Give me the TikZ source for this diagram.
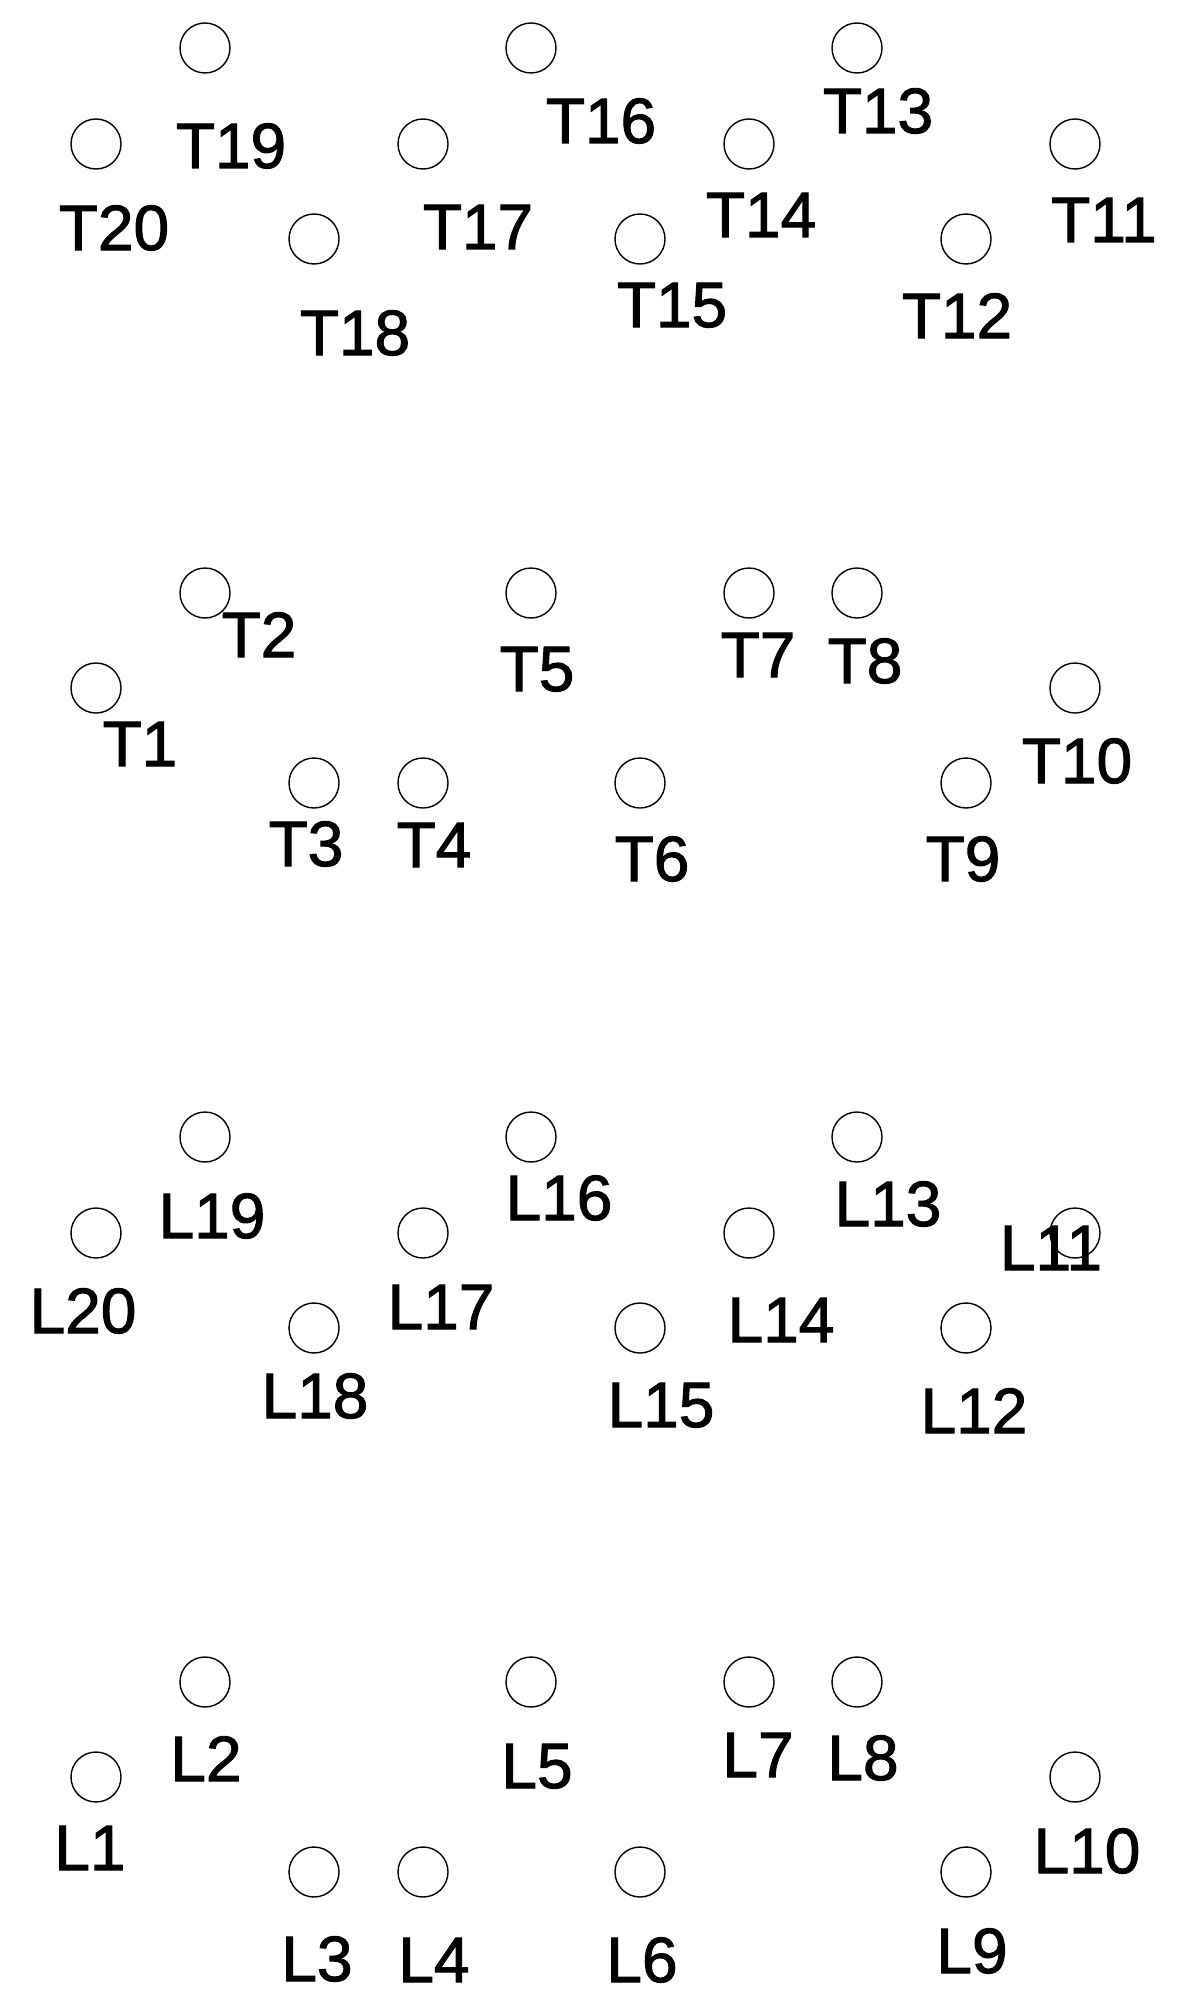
\documentclass[tikz,border=0pt]{standalone}
\usepackage{fontspec}
\setmainfont{Liberation Sans}
\newfontfamily\tagfont{Liberation Sans}[FakeBold=1.6]
\usepackage{tikz}

\begin{document}
\begin{tikzpicture}[
      x=0.5pt, y=-0.5pt,
      hole/.style={draw, circle, minimum size=25pt, inner sep=0pt, line width=0.7pt},
      tag/.style={anchor=base, inner sep=0pt, font=\tagfont\fontsize{32}{38}\selectfont}
    ]
    \useasboundingbox (0,0) rectangle (1177,2001);

    % upper jaw, buccal side
    \node[hole] (t19) at (205,48) {};
    \node[hole] (t16) at (531,48) {};
    \node[hole] (t13) at (857,48) {};
    \node[hole] (t20) at (96,144) {};
    \node[hole] (t17) at (423,144) {};
    \node[hole] (t14) at (749,144) {};
    \node[hole] (t11) at (1075,144) {};
    \node[hole] (t18) at (314,239) {};
    \node[hole] (t15) at (640,239) {};
    \node[hole] (t12) at (966,239) {};

    \node[tag] (t19l) at (231,168) {T19};
    \node[tag] (t16l) at (601,143) {T16};
    \node[tag] (t13l) at (878,133) {T13};
    \node[tag] (t20l) at (114,250) {T20};
    \node[tag] (t17l) at (478,249) {T17};
    \node[tag] (t14l) at (761,237) {T14};
    \node[tag] (t11l) at (1104,242) {T11};
    \node[tag] (t18l) at (355,355) {T18};
    \node[tag] (t15l) at (672,327) {T15};
    \node[tag] (t12l) at (957,338) {T12};

    % upper jaw, lingual side
    \node[hole] (t2) at (205,593) {};
    \node[hole] (t5) at (531,593) {};
    \node[hole] (t7) at (749,593) {};
    \node[hole] (t8) at (857,593) {};
    \node[hole] (t1) at (96,688) {};
    \node[hole] (t10) at (1075,688) {};
    \node[hole] (t3) at (314,783) {};
    \node[hole] (t4) at (423,783) {};
    \node[hole] (t6) at (640,783) {};
    \node[hole] (t9) at (966,783) {};

    \node[tag] (t2l) at (259,657) {T2};
    \node[tag] (t5l) at (537,691) {T5};
    \node[tag] (t7l) at (758,677) {T7};
    \node[tag] (t8l) at (865,683) {T8};
    \node[tag] (t1l) at (140,766) {T1};
    \node[tag] (t10l) at (1077,783) {T10};
    \node[tag] (t3l) at (306,866) {T3};
    \node[tag] (t4l) at (434,867) {T4};
    \node[tag] (t6l) at (652,881) {T6};
    \node[tag] (t9l) at (963,881) {T9};

    % lower jaw, buccal side
    \node[hole] (l19) at (205,1137) {};
    \node[hole] (l16) at (531,1137) {};
    \node[hole] (l13) at (857,1137) {};
    \node[hole] (l20) at (96,1233) {};
    \node[hole] (l17) at (423,1233) {};
    \node[hole] (l14) at (749,1233) {};
    \node[hole] (l11) at (1075,1233) {};
    \node[hole] (l18) at (314,1328) {};
    \node[hole] (l15) at (640,1328) {};
    \node[hole] (l12) at (966,1328) {};

    \node[tag] (l19l) at (212,1238) {L19};
    \node[tag] (l16l) at (559,1220) {L16};
    \node[tag] (l13l) at (888,1226) {L13};
    \node[tag] (l20l) at (83,1333) {L20};
    \node[tag] (l17l) at (441,1329) {L17};
    \node[tag] (l14l) at (781,1342) {L14};
    \node[tag] (l11l) at (1051,1270) {L11};
    \node[tag] (l18l) at (315,1418) {L18};
    \node[tag] (l15l) at (661,1427) {L15};
    \node[tag] (l12l) at (974,1433) {L12};

    % lower jaw, lingual side
    \node[hole] (l2) at (205,1682) {};
    \node[hole] (l5) at (531,1682) {};
    \node[hole] (l7) at (749,1682) {};
    \node[hole] (l8) at (857,1682) {};
    \node[hole] (l1) at (96,1777) {};
    \node[hole] (l10) at (1075,1777) {};
    \node[hole] (l3) at (314,1872) {};
    \node[hole] (l4) at (423,1872) {};
    \node[hole] (l6) at (640,1872) {};
    \node[hole] (l9) at (966,1872) {};

    \node[tag] (l2l) at (206,1781) {L2};
    \node[tag] (l5l) at (537,1788) {L5};
    \node[tag] (l7l) at (758,1777) {L7};
    \node[tag] (l8l) at (863,1780) {L8};
    \node[tag] (l1l) at (90,1870) {L1};
    \node[tag] (l10l) at (1087,1873) {L10};
    \node[tag] (l3l) at (317,1981) {L3};
    \node[tag] (l4l) at (434,1982) {L4};
    \node[tag] (l6l) at (642,1982) {L6};
    \node[tag] (l9l) at (972,1973) {L9};
  \end{tikzpicture}
\end{document}
